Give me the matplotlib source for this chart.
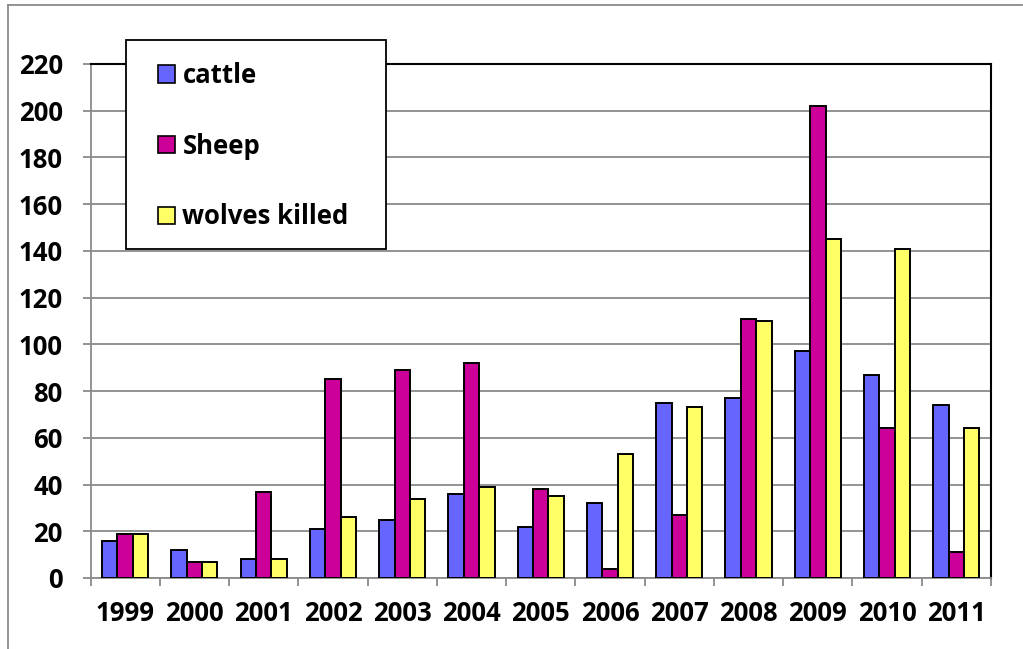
import matplotlib
matplotlib.use("Agg")
import matplotlib.pyplot as plt
import numpy as np
from matplotlib.lines import Line2D
from matplotlib.patches import Rectangle, Patch

years = ["1999", "2000", "2001", "2002", "2003", "2004", "2005",
         "2006", "2007", "2008", "2009", "2010", "2011"]
cattle = [16, 12, 8, 21, 25, 36, 22, 32, 75, 77, 97, 87, 74]
sheep = [19, 7, 37, 85, 89, 92, 38, 4, 27, 111, 202, 64, 11]
wolves_killed = [19, 7, 8, 26, 34, 39, 35, 53, 73, 110, 145, 141, 64]

series_names = ["cattle", "Sheep", "wolves killed"]
series_colors = ["#6666FF", "#CC0099", "#FFFF66"]
y_ticks = list(range(0, 221, 20))

plt.rcParams["font.family"] = ["Open Sans", "DejaVu Sans"]
plt.rcParams["font.weight"] = "bold"

FS = 18.5

W, H = 1023, 649
fig = plt.figure(figsize=(W / 100, H / 100), dpi=100)
fig.patch.set_facecolor("white")

ax = fig.add_axes([90.5 / W, 1 - 578 / H, (991 - 90.5) / W, (578 - 64) / H])

x = np.arange(len(years))
bw = 1 / 4.5
for i, (vals, color) in enumerate(zip([cattle, sheep, wolves_killed], series_colors)):
    ax.bar(x + (i - 1) * bw, vals, width=bw, color=color,
           edgecolor="black", linewidth=1.4, zorder=3)

ax.set_xlim(-0.5, len(years) - 0.5)
ax.set_ylim(0, 220)
ax.set_yticks(y_ticks)
ax.set_yticklabels([str(v) for v in y_ticks], fontsize=FS, fontweight="bold")
ax.set_xticks(x)
ax.set_xticklabels(years, fontsize=FS, fontweight="bold")
ax.set_xticks(np.arange(-0.5, len(years)), minor=True)

grid_color = "#8a8a8a"
ax.yaxis.grid(True, color=grid_color, linewidth=1.3, zorder=0)
ax.set_axisbelow(True)

ax.tick_params(axis="x", which="major", length=0, pad=15.5)
ax.tick_params(axis="x", which="minor", length=6, width=1.3, color=grid_color)
ax.tick_params(axis="y", which="major", length=6, width=1.3, color=grid_color, pad=14)

for side in ("left", "bottom"):
    ax.spines[side].set_color(grid_color)
    ax.spines[side].set_linewidth(1.3)
for side in ("top", "right"):
    ax.spines[side].set_color("black")
    ax.spines[side].set_linewidth(1.5)

# outer chart frame
fig.add_artist(Line2D([8 / W, 1022 / W], [1 - 5 / H, 1 - 5 / H],
                      transform=fig.transFigure, color="#8a8a8a", linewidth=1.3))
fig.add_artist(Line2D([8 / W, 8 / W], [1 - 5 / H, 0],
                      transform=fig.transFigure, color="#8a8a8a", linewidth=1.3))

# legend box
fig.add_artist(Rectangle((125.5 / W, 1 - 249 / H), (385.5 - 125.5) / W, (249 - 40.5) / H,
                         transform=fig.transFigure, facecolor="white",
                         edgecolor="black", linewidth=1.3, zorder=5))
handles = [Patch(facecolor=c, edgecolor="black", linewidth=1.2) for c in series_colors]
leg = fig.legend(handles, series_names, loc="upper left",
                 bbox_to_anchor=(158 / W, 1 - 62 / H), frameon=False,
                 prop={"size": FS, "weight": "bold"},
                 handlelength=0.65, handleheight=0.65, handletextpad=0.3,
                 labelspacing=1.7, borderaxespad=0, borderpad=0)
leg.set_zorder(6)

fig.savefig("out.png", dpi=100)
